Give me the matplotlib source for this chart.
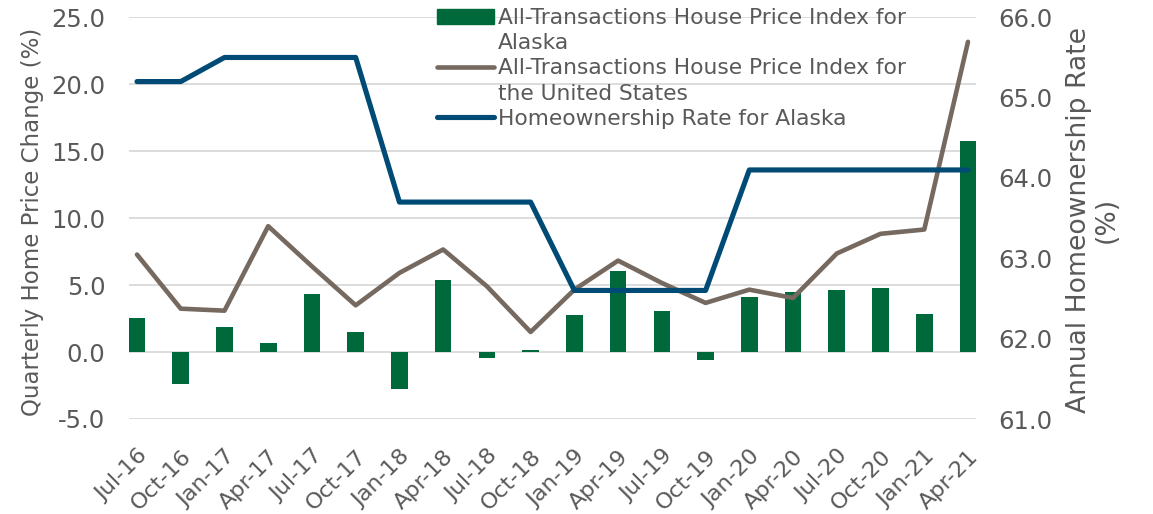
import matplotlib
matplotlib.use("Agg")
import matplotlib.pyplot as plt
from matplotlib.lines import Line2D
from matplotlib.patches import Patch
import numpy as np

categories = ["Jul-16", "Oct-16", "Jan-17", "Apr-17", "Jul-17", "Oct-17", "Jan-18",
              "Apr-18", "Jul-18", "Oct-18", "Jan-19", "Apr-19", "Jul-19", "Oct-19",
              "Jan-20", "Apr-20", "Jul-20", "Oct-20", "Jan-21", "Apr-21"]
alaska_hpi = [2.55, -2.4, 1.84, 0.67, 4.34, 1.5, -2.75, 5.41, -0.45, 0.15,
              2.79, 6.03, 3.04, -0.63, 4.12, 4.46, 4.66, 4.76, 2.82, 15.77]
us_hpi = [7.28, 3.24, 3.09, 9.4, 6.4, 3.49, 5.91, 7.66, 4.91, 1.5,
          4.66, 6.83, 5.16, 3.67, 4.66, 4.04, 7.36, 8.83, 9.15, 23.17]
ak_homeown = [65.2, 65.2, 65.5, 65.5, 65.5, 65.5, 63.7, 63.7, 63.7, 63.7,
              62.6, 62.6, 62.6, 62.6, 64.1, 64.1, 64.1, 64.1, 64.1, 64.1]
left_ticks = [-5, 0, 5, 10, 15, 20, 25]
right_ticks = [61, 62, 63, 64, 65, 66]

GREEN = "#00693B"
BROWN = "#756960"
BLUE = "#004B76"
TXT = "#595959"
GRID = "#D9D9D9"

W, H = 1153, 514
fig = plt.figure(figsize=(W / 100, H / 100), dpi=100)
L, R, T, B = 129, 976, 17.3, 419
ax = fig.add_axes([L / W, 1 - B / H, (R - L) / W, (B - T) / H])
ax2 = ax.twinx()

x = np.arange(len(categories))
ax.bar(x, alaska_hpi, width=0.38, color=GREEN, zorder=2)
ax.plot(x, us_hpi, color=BROWN, lw=3.3, solid_capstyle="round", solid_joinstyle="round", zorder=3)
ax2.plot(x, ak_homeown, color=BLUE, lw=3.7, solid_capstyle="round", solid_joinstyle="round")

ax.set_xlim(-0.183, len(categories) - 1 + 0.183)
ax.set_ylim(-5, 25)
ax2.set_ylim(61, 66)
ax.set_yticks(left_ticks)
ax.set_yticklabels([f"{v:.1f}" for v in left_ticks])
ax2.set_yticks(right_ticks)
ax2.set_yticklabels([f"{v:.1f}" for v in right_ticks])
ax.set_xticks(x)
ax.set_xticklabels(categories, rotation=45, ha="right", va="top", rotation_mode="anchor")

ax.yaxis.grid(True, color=GRID, lw=1.3)
ax.set_axisbelow(True)
for a in (ax, ax2):
    for s in a.spines.values():
        s.set_visible(False)
ax.tick_params(axis="y", length=0, pad=17, labelsize=17.5, labelcolor=TXT)
ax.tick_params(axis="x", length=0, pad=19.5, labelsize=16.2, labelcolor=TXT)
ax2.tick_params(axis="y", length=0, pad=16, labelsize=17.5, labelcolor=TXT)

fig.text(33 / W, 1 - 222 / H, "Quarterly Home Price Change (%)", rotation=90,
         ha="center", va="center", fontsize=16.5, color=TXT)
fig.text(1093 / W, 1 - 220 / H, "Annual Homeownership Rate\n(%)", rotation=90,
         ha="center", va="center", multialignment="center", fontsize=19.2, color=TXT,
         linespacing=1.05)

blank = Line2D([], [], alpha=0)
handles = [Patch(color=GREEN), blank,
           Line2D([], [], color=BROWN, lw=3.3, solid_capstyle="round"), blank,
           Line2D([], [], color=BLUE, lw=3.7, solid_capstyle="round")]
labels = ["All-Transactions House Price Index for", "Alaska",
          "All-Transactions House Price Index for", "the United States",
          "Homeownership Rate for Alaska"]
leg = fig.legend(handles, labels, loc="upper left", bbox_to_anchor=(437 / W, 1 - 8 / H),
                 frameon=False, fontsize=15.7, labelcolor=TXT, borderpad=0,
                 borderaxespad=0, labelspacing=0.24, handlelength=2.6,
                 handletextpad=0.2, handleheight=0.65)

fig.savefig("out.png", dpi=100)
